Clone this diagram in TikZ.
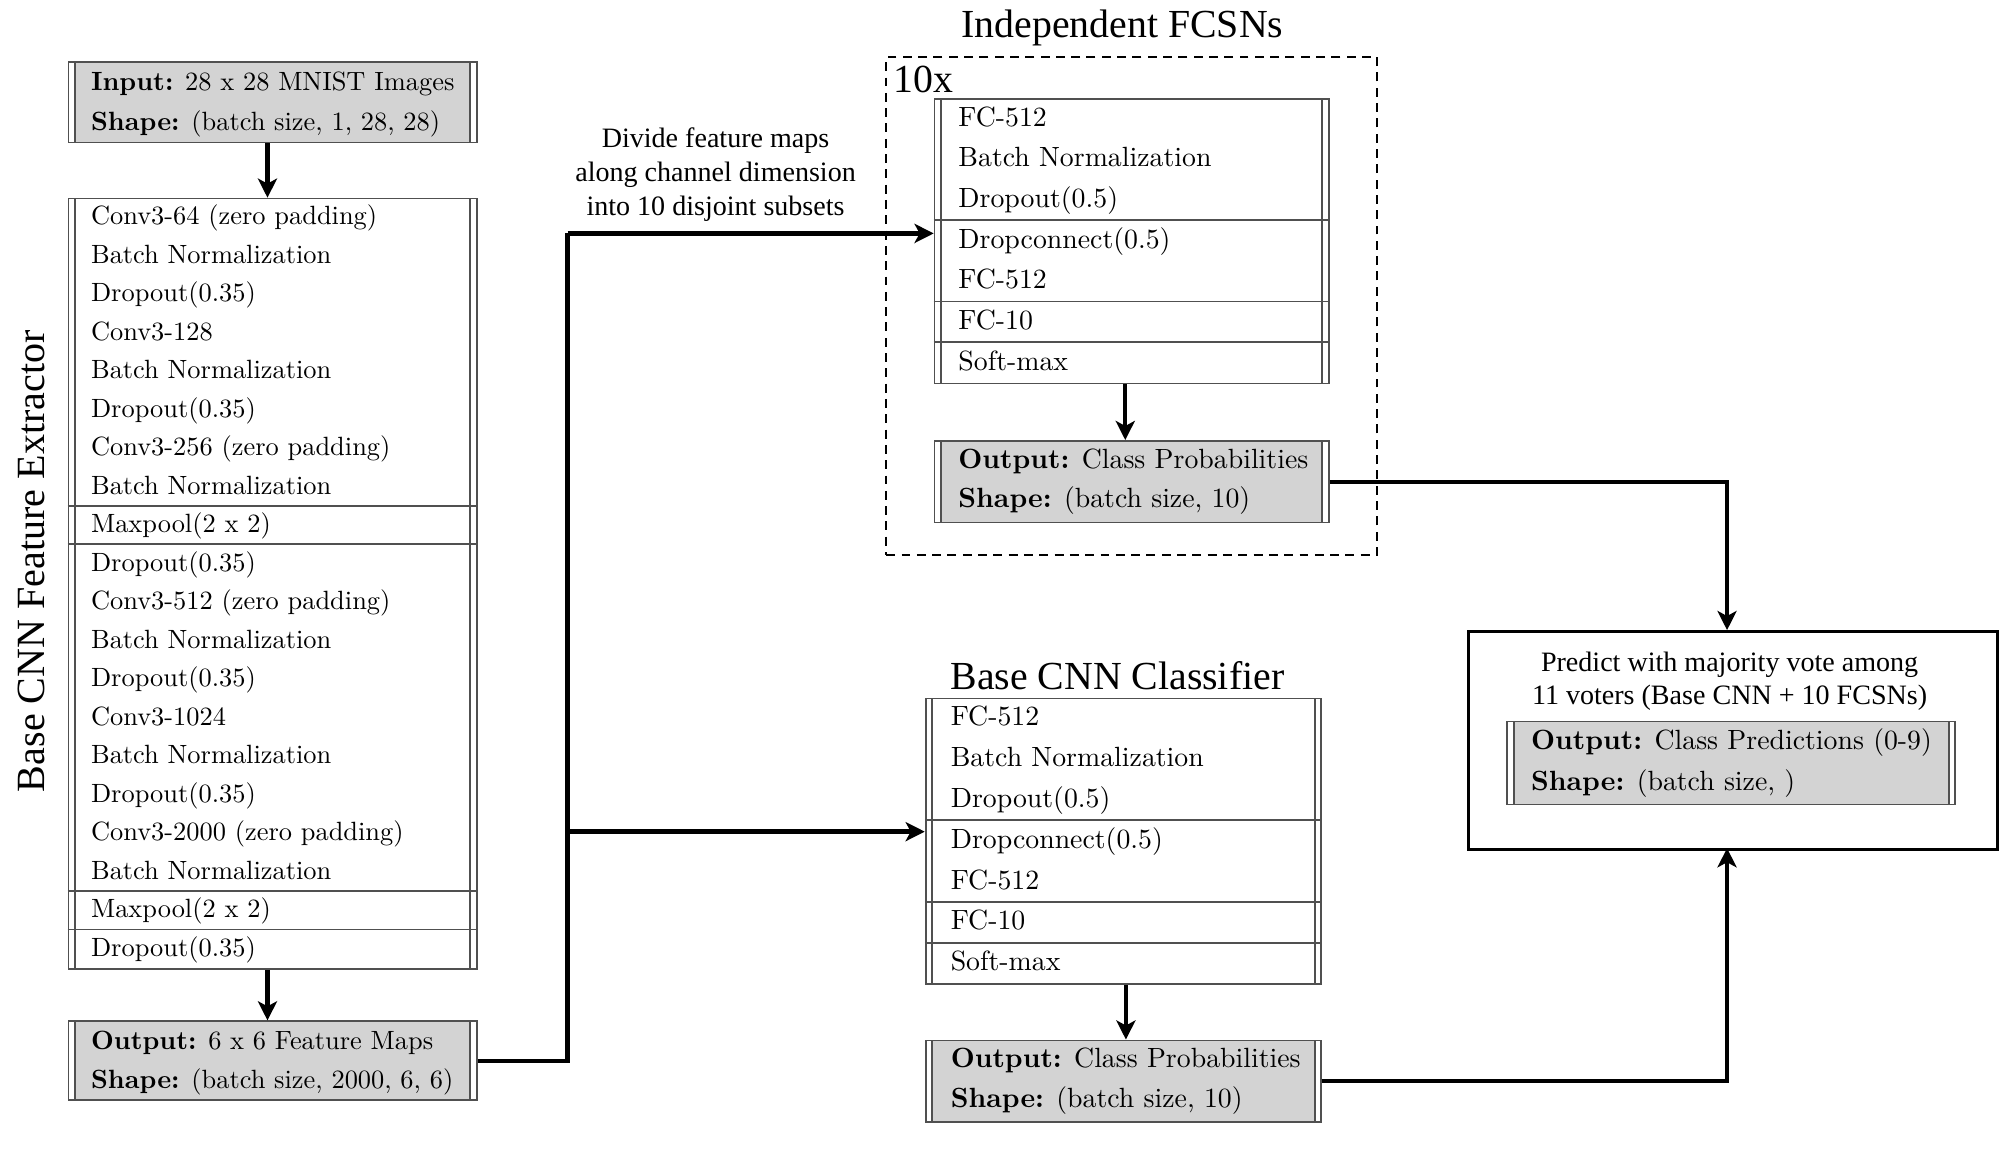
\documentclass[tikz,border=0pt]{standalone}
\usepackage{fontspec}
\newfontfamily\tms{Liberation Serif}
\usetikzlibrary{arrows.meta}
\definecolor{boxline}{RGB}{80,80,80}
\definecolor{boxfill}{RGB}{211,211,211}
\begin{document}
\begin{tikzpicture}[x=0.5pt,y=-0.5pt,
  lay/.style={draw=boxline, line width=0.7pt, rectangle, inner sep=0pt, anchor=north west, fill=white,
    path picture={\draw[boxline,line width=0.7pt]
      ([xshift=2.5pt]path picture bounding box.south west) -- ([xshift=2.5pt]path picture bounding box.north west)
      ([xshift=-2.5pt]path picture bounding box.south east) -- ([xshift=-2.5pt]path picture bounding box.north east);}},
  gbox/.style={draw=boxline, line width=0.7pt, rectangle, inner sep=0pt, anchor=north west, fill=white,
    path picture={\fill[boxfill] ([xshift=2.5pt]path picture bounding box.south west) rectangle ([xshift=-2.5pt]path picture bounding box.north east);
      \draw[boxline,line width=0.7pt]
      ([xshift=2.5pt]path picture bounding box.south west) -- ([xshift=2.5pt]path picture bounding box.north west)
      ([xshift=-2.5pt]path picture bounding box.south east) -- ([xshift=-2.5pt]path picture bounding box.north east);}},
  divl/.style={draw=boxline, line width=0.7pt},
  txt/.style={anchor=west, inner sep=0pt, font=\fontsize{10.35}{12}\selectfont, text height=8pt, text depth=2pt},
  txtb/.style={txt, font=\fontsize{10.9}{12.5}\selectfont},
  ttl/.style={inner sep=0pt, font=\tms\fontsize{15.6}{18}\selectfont},
  lbl/.style={inner sep=0pt, align=center, font=\tms\fontsize{11}{13.2}\selectfont},
  conn/.style={line width=1.7pt, -{Stealth[length=7.5pt,width=7.5pt,inset=2pt]}},
  connl/.style={line width=1.7pt}
]
\useasboundingbox (0,0) rectangle (1568,903);

% ---------------- left column ----------------
\node[rotate=90, ttl, font=\tms\fontsize{15.7}{18}\selectfont] (extr) at (25,440) {Base CNN Feature Extractor};

\node[gbox, minimum width=160pt, minimum height=31.5pt] (inp) at (53,48) {};
\node[txt] (inp1) at (71,65) {\textbf{Input:} 28 x 28 MNIST Images};
\node[txt] (inp2) at (71,96) {\textbf{Shape:} (batch size, 1, 28, 28)};

\node[lay, minimum width=160pt, minimum height=302pt] (cnn) at (53,155) {};
\foreach \yy in {396.6,426.8,698.6,728.8} \draw[divl] (53,\yy) -- (373,\yy);
\foreach \t [count=\i from 0] in {Conv3-64 (zero padding), Batch Normalization, Dropout(0.35), Conv3-128, Batch Normalization, Dropout(0.35), Conv3-256 (zero padding), Batch Normalization, Maxpool(2 x 2), Dropout(0.35), Conv3-512 (zero padding), Batch Normalization, Dropout(0.35), Conv3-1024, Batch Normalization, Dropout(0.35), Conv3-2000 (zero padding), Batch Normalization, Maxpool(2 x 2), Dropout(0.35)}
  \node[txt] (L\i) at (71,{155+30.2*(\i+0.5)}) {\t};

\node[gbox, minimum width=160pt, minimum height=31pt] (fout) at (53,800) {};
\node[txt] (fout1) at (71,816.5) {\textbf{Output:} 6 x 6 Feature Maps};
\node[txt] (fout2) at (71,847.5) {\textbf{Shape:} (batch size, 2000, 6, 6)};

\draw[conn] ([xshift=-2pt]inp.south) -- ([xshift=-2pt]cnn.north);
\draw[conn] ([xshift=-2pt]cnn.south) -- ([xshift=-2pt]fout.north);

% ---------------- FCSNs ----------------
\node[ttl] (fcsnt) at (880,22) {Independent FCSNs};
\node[draw, dash pattern=on 3.5pt off 2.5pt, line width=0.8pt, minimum width=192.5pt, minimum height=195pt, inner sep=0pt, anchor=north west] (dbox) at (694,44) {};
\node[ttl, anchor=west] (tenx) at (700,62) {10x};

\node[lay, minimum width=154.5pt, minimum height=111.5pt] (fc) at (732,77) {};
\foreach \yy in {172.6,236.3,268.1} \draw[divl] (732,\yy) -- (1041,\yy);
\foreach \t [count=\i from 0] in {FC-512, Batch Normalization, Dropout(0.5), Dropconnect(0.5), FC-512, FC-10, Soft-max}
  \node[txtb] (F\i) at (751,{77+31.86*(\i+0.5)}) {\t};

\node[gbox, minimum width=154.5pt, minimum height=32pt] (fcout) at (732,345) {};
\node[txtb] (fcout1) at (751,361) {\textbf{Output:} Class Probabilities};
\node[txtb] (fcout2) at (751,392) {\textbf{Shape:} (batch size, 10)};
\draw[conn] ([xshift=-2.5pt]fc.south) -- ([xshift=-2.5pt]fcout.north);

% ---------------- Base CNN classifier ----------------
\node[ttl] (clst) at (876,530) {Base CNN Classifier};
\node[lay, minimum width=155pt, minimum height=112pt] (cls) at (725,547) {};
\foreach \yy in {643,707,739} \draw[divl] (725,\yy) -- (1035,\yy);
\foreach \t [count=\i from 0] in {FC-512, Batch Normalization, Dropout(0.5), Dropconnect(0.5), FC-512, FC-10, Soft-max}
  \node[txtb] (C\i) at (745,{547+32*(\i+0.5)}) {\t};

\node[gbox, minimum width=155pt, minimum height=32pt] (clsout) at (725,815) {};
\node[txtb] (clsout1) at (745,831) {\textbf{Output:} Class Probabilities};
\node[txtb] (clsout2) at (745,862) {\textbf{Shape:} (batch size, 10)};
\draw[conn] ([xshift=1pt]cls.south) -- ([xshift=1pt]clsout.north);

% ---------------- voting ----------------
\node[draw, line width=1.2pt, minimum width=207.5pt, minimum height=85.5pt, inner sep=0pt, anchor=north west] (vote) at (1150,494) {};
\node[lbl] (votet) at (1356,534) {Predict with majority vote among\\11 voters (Base CNN + 10 FCSNs)};
\node[gbox, minimum width=175.5pt, minimum height=32.5pt] (vout) at (1181,565) {};
\node[txtb] (vout1) at (1200,581.5) {\textbf{Output:} Class Predictions (0-9)};
\node[txtb] (vout2) at (1200,613.5) {\textbf{Shape:} (batch size, )};

% ---------------- label ----------------
\node[lbl] (divt) at (561,137) {Divide feature maps\\along channel dimension\\into 10 disjoint subsets};

% ---------------- connectors ----------------
\coordinate (ctop) at (445,183);
\coordinate (csplit) at (445,652);
\coordinate (vtop) at (1354,494);
\coordinate (vbot) at (1354,665);
\draw[connl] (fout.east) -| (ctop);
\draw[conn] (ctop) -- (ctop -| fc.west);
\draw[conn] (csplit) -- (csplit -| cls.west);
\draw[conn] (fcout.east) -| (vtop);
\draw[conn] (clsout.east) -| (vbot);
\end{tikzpicture}
\end{document}
